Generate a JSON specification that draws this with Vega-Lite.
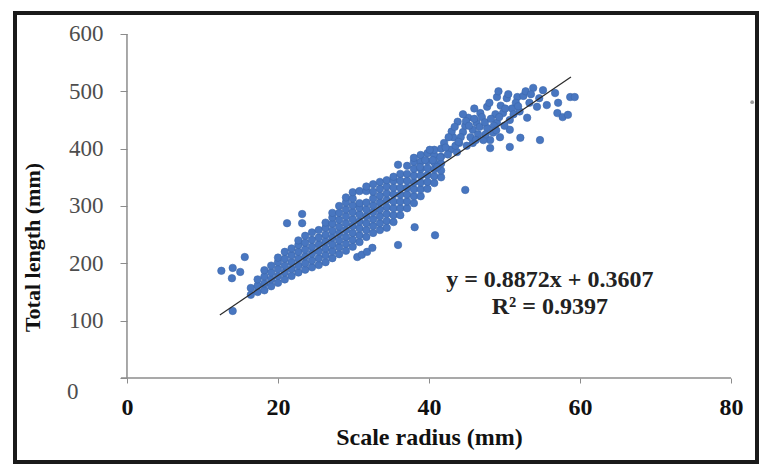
{
  "$schema": "https://vega.github.io/schema/vega-lite/v6.json",
  "width": 742,
  "height": 449,
  "autosize": {"type": "none"},
  "padding": {"left": 15, "top": 13, "right": 11, "bottom": 2},
  "background": "white",
  "config": {
    "view": {"stroke": "#1a1a1a", "strokeWidth": 4},
    "font": "Liberation Serif"
  },
  "datasets": {
    "pts": [
      {"x":16.4,"y":145},{"x":16.4,"y":157},
      {"x":17.3,"y":150},{"x":17.3,"y":161},{"x":17.3,"y":172},
      {"x":18.2,"y":153},{"x":18.2,"y":165},{"x":18.2,"y":177},{"x":18.2,"y":188},
      {"x":19.1,"y":160},{"x":19.1,"y":172},{"x":19.1,"y":184},{"x":19.1,"y":196},
      {"x":20.0,"y":166},{"x":20.0,"y":178},{"x":20.0,"y":190},{"x":20.0,"y":202},{"x":20.0,"y":210},
      {"x":20.9,"y":172},{"x":20.9,"y":184},{"x":20.9,"y":196},{"x":20.9,"y":208},{"x":20.9,"y":220},
      {"x":21.8,"y":178},{"x":21.8,"y":190},{"x":21.8,"y":202},{"x":21.8,"y":214},{"x":21.8,"y":226},
      {"x":22.7,"y":184},{"x":22.7,"y":196},{"x":22.7,"y":208},{"x":22.7,"y":220},{"x":22.7,"y":232},{"x":22.7,"y":240},
      {"x":23.6,"y":189},{"x":23.6,"y":200},{"x":23.6,"y":212},{"x":23.6,"y":224},{"x":23.6,"y":236},{"x":23.6,"y":248},
      {"x":24.5,"y":193},{"x":24.5,"y":205},{"x":24.5,"y":217},{"x":24.5,"y":229},{"x":24.5,"y":241},{"x":24.5,"y":254},
      {"x":25.4,"y":197},{"x":25.4,"y":209},{"x":25.4,"y":221},{"x":25.4,"y":233},{"x":25.4,"y":245},{"x":25.4,"y":258},
      {"x":26.3,"y":202},{"x":26.3,"y":214},{"x":26.3,"y":226},{"x":26.3,"y":238},{"x":26.3,"y":250},{"x":26.3,"y":262},{"x":26.3,"y":271},
      {"x":27.2,"y":209},{"x":27.2,"y":221},{"x":27.2,"y":233},{"x":27.2,"y":245},{"x":27.2,"y":257},{"x":27.2,"y":269},{"x":27.2,"y":280},{"x":27.2,"y":288},
      {"x":28.1,"y":216},{"x":28.1,"y":228},{"x":28.1,"y":240},{"x":28.1,"y":252},{"x":28.1,"y":264},{"x":28.1,"y":276},{"x":28.1,"y":288},{"x":28.1,"y":300},
      {"x":29.0,"y":222},{"x":29.0,"y":234},{"x":29.0,"y":246},{"x":29.0,"y":258},{"x":29.0,"y":270},{"x":29.0,"y":282},{"x":29.0,"y":294},{"x":29.0,"y":306},{"x":29.0,"y":315},
      {"x":29.9,"y":229},{"x":29.9,"y":241},{"x":29.9,"y":253},{"x":29.9,"y":265},{"x":29.9,"y":277},{"x":29.9,"y":289},{"x":29.9,"y":301},{"x":29.9,"y":313},{"x":29.9,"y":324},
      {"x":30.8,"y":237},{"x":30.8,"y":249},{"x":30.8,"y":261},{"x":30.8,"y":273},{"x":30.8,"y":285},{"x":30.8,"y":297},{"x":30.8,"y":305},{"x":30.8,"y":326},
      {"x":31.7,"y":246},{"x":31.7,"y":258},{"x":31.7,"y":270},{"x":31.7,"y":282},{"x":31.7,"y":294},{"x":31.7,"y":306},{"x":31.7,"y":326},{"x":31.7,"y":334},
      {"x":32.6,"y":253},{"x":32.6,"y":265},{"x":32.6,"y":277},{"x":32.6,"y":289},{"x":32.6,"y":301},{"x":32.6,"y":313},{"x":32.6,"y":325},{"x":32.6,"y":338},
      {"x":33.5,"y":258},{"x":33.5,"y":270},{"x":33.5,"y":282},{"x":33.5,"y":294},{"x":33.5,"y":306},{"x":33.5,"y":318},{"x":33.5,"y":330},{"x":33.5,"y":342},
      {"x":34.4,"y":262},{"x":34.4,"y":274},{"x":34.4,"y":286},{"x":34.4,"y":298},{"x":34.4,"y":310},{"x":34.4,"y":322},{"x":34.4,"y":334},{"x":34.4,"y":345},
      {"x":35.3,"y":272},{"x":35.3,"y":284},{"x":35.3,"y":296},{"x":35.3,"y":308},{"x":35.3,"y":320},{"x":35.3,"y":332},{"x":35.3,"y":344},{"x":35.3,"y":351},
      {"x":36.2,"y":284},{"x":36.2,"y":296},{"x":36.2,"y":308},{"x":36.2,"y":320},{"x":36.2,"y":332},{"x":36.2,"y":344},{"x":36.2,"y":356},
      {"x":37.1,"y":296},{"x":37.1,"y":308},{"x":37.1,"y":320},{"x":37.1,"y":332},{"x":37.1,"y":344},{"x":37.1,"y":356},{"x":37.1,"y":370},
      {"x":38.0,"y":305},{"x":38.0,"y":317},{"x":38.0,"y":329},{"x":38.0,"y":341},{"x":38.0,"y":353},{"x":38.0,"y":365},{"x":38.0,"y":377},{"x":38.0,"y":384},
      {"x":38.9,"y":317},{"x":38.9,"y":329},{"x":38.9,"y":341},{"x":38.9,"y":353},{"x":38.9,"y":365},{"x":38.9,"y":377},{"x":38.9,"y":389},
      {"x":39.8,"y":330},{"x":39.8,"y":342},{"x":39.8,"y":354},{"x":39.8,"y":366},{"x":39.8,"y":378},{"x":39.8,"y":392},
      {"x":40.7,"y":340},{"x":40.7,"y":352},{"x":40.7,"y":364},{"x":40.7,"y":376},{"x":40.7,"y":388},{"x":40.7,"y":398},
      {"x":41.6,"y":350},{"x":41.6,"y":362},{"x":41.6,"y":374},{"x":41.6,"y":386},{"x":41.6,"y":400},
      {"x":53.8,"y":506},{"x":55.1,"y":502},{"x":56.7,"y":497},{"x":58.7,"y":490},{"x":57.1,"y":480},{"x":55.6,"y":476},
      {"x":54.3,"y":473},{"x":57.0,"y":462},{"x":57.7,"y":455},{"x":53.0,"y":454},{"x":54.7,"y":415},{"x":52.1,"y":419},
      {"x":50.7,"y":433},{"x":47.7,"y":473},{"x":49.0,"y":490},{"x":50.3,"y":488},{"x":51.7,"y":490},{"x":46.8,"y":462},
      {"x":43.8,"y":447},{"x":45.2,"y":454},{"x":43.2,"y":420},{"x":44.5,"y":429},{"x":45.8,"y":433},{"x":47.7,"y":436},
      {"x":49.0,"y":445},{"x":49.8,"y":462},{"x":50.7,"y":450},{"x":48.1,"y":415},{"x":49.4,"y":420},{"x":50.7,"y":403},
      {"x":48.1,"y":401},{"x":45.8,"y":410},{"x":42.8,"y":398},{"x":41.5,"y":385},{"x":40.5,"y":380},{"x":40.1,"y":398},
      {"x":39.5,"y":380},{"x":38.8,"y":368},{"x":41.1,"y":368},{"x":43.7,"y":394},
      {"x":44.0,"y":410},{"x":44.8,"y":440},{"x":45.5,"y":420},{"x":46.3,"y":445},{"x":46.5,"y":425},{"x":47.0,"y":455},
      {"x":47.2,"y":415},{"x":48.5,"y":428},{"x":48.8,"y":460},{"x":49.5,"y":475},{"x":50.0,"y":440},{"x":51.0,"y":470},
      {"x":51.5,"y":480},{"x":52.0,"y":465},{"x":52.5,"y":492},{"x":53.3,"y":480},{"x":46.0,"y":470},{"x":44.5,"y":460},
      {"x":43.0,"y":430},{"x":42.0,"y":410},{"x":42.5,"y":390},{"x":43.5,"y":405},{"x":49.2,"y":500},{"x":50.5,"y":495},
      {"x":48.0,"y":480},{"x":52.8,"y":500},{"x":59.3,"y":490},{"x":58.4,"y":459},
      {"x":42.6,"y":420},{"x":43.4,"y":438},{"x":44.2,"y":420},{"x":44.9,"y":448},{"x":45.3,"y":440},{"x":46.0,"y":452},
      {"x":46.7,"y":438},{"x":47.4,"y":446},{"x":48.2,"y":452},{"x":48.6,"y":440},{"x":49.3,"y":455},{"x":50.1,"y":470},
      {"x":51.2,"y":460},{"x":51.8,"y":474},{"x":45.0,"y":405},{"x":46.2,"y":415},{"x":47.5,"y":425},{"x":48.9,"y":432},
      {"x":42.2,"y":402},{"x":43.9,"y":412},{"x":53.5,"y":495},{"x":54.6,"y":488},
      {"x":12.5,"y":187},{"x":13.9,"y":174},{"x":14.0,"y":192},{"x":15.0,"y":185},{"x":15.6,"y":211},
      {"x":21.2,"y":270},{"x":23.2,"y":286},{"x":23.2,"y":270},{"x":14.0,"y":117},
      {"x":30.5,"y":211},{"x":31.1,"y":215},{"x":31.8,"y":220},{"x":32.5,"y":227},
      {"x":35.9,"y":232},{"x":38.1,"y":263},{"x":40.8,"y":249},{"x":44.8,"y":328},{"x":35.9,"y":372}
    ],
    "stray": [{"x": 82.8, "y": 481}],
    "trend": [{"x": 12.3, "y": 110}, {"x": 58.8, "y": 525}],
    "axislines": [
      {"x": -0.8, "y": 0, "x2": 80, "y2": 0},
      {"x": 0, "y": 0, "x2": 0, "y2": 600}
    ],
    "labels": [
      {"x": 56.0, "y": 171, "text": "y = 0.8872x + 0.3607"},
      {"x": 56.0, "y": 124, "text": "R² = 0.9397"}
    ]
  },
  "layer": [
    {
      "data": {"name": "axislines"},
      "mark": {"type": "rule", "color": "#8c8c8c", "strokeWidth": 1.5},
      "encoding": {
        "x": {
          "field": "x", "type": "quantitative",
          "scale": {"domain": [-14.83, 83.44], "nice": false, "zero": false},
          "axis": {
            "values": [0, 20, 40, 60, 80],
            "offset": -84,
            "domain": false,
            "grid": false,
            "tickSize": 5,
            "tickColor": "#8c8c8c",
            "labelFont": "Liberation Serif",
            "labelFontWeight": "bold",
            "labelFontSize": 24,
            "labelColor": "#111",
            "labelPadding": 12,
            "title": "Scale radius (mm)",
            "titleFont": "Liberation Serif",
            "titleFontWeight": "bold",
            "titleFontSize": 24,
            "titleColor": "#111",
            "titleX": 414,
            "titlePadding": 6
          }
        },
        "y": {
          "field": "y", "type": "quantitative",
          "scale": {"domain": [-146.5, 636.6], "nice": false, "zero": false},
          "axis": {
            "values": [0, 100, 200, 300, 400, 500, 600],
            "offset": -112,
            "domain": false,
            "grid": false,
            "tickSize": 7,
            "tickColor": "#8c8c8c",
            "labelFont": "Liberation Serif",
            "labelFontSize": 23,
            "labelColor": "#4d4d4d",
            "labelPadding": {"condition": {"test": "datum.value === 0", "value": 42}, "value": 17},
            "labelOffset": {"condition": {"test": "datum.value === 0", "value": 13}, "value": 0},
            "title": "Total length (mm)",
            "titleFont": "Liberation Serif",
            "titleFontWeight": "bold",
            "titleFontSize": 22,
            "titleColor": "#111",
            "titleY": 234,
            "titlePadding": 22
          }
        },
        "x2": {"field": "x2"},
        "y2": {"field": "y2"}
      }
    },
    {
      "data": {"name": "pts"},
      "mark": {"type": "circle", "size": 56, "color": "#4876c0", "opacity": 1, "stroke": "#3d68ad", "strokeWidth": 0.6},
      "encoding": {
        "x": {"field": "x", "type": "quantitative"},
        "y": {"field": "y", "type": "quantitative"}
      }
    },
    {
      "data": {"name": "stray"},
      "mark": {"type": "circle", "size": 14, "color": "#9a9a9a", "opacity": 1},
      "encoding": {
        "x": {"field": "x", "type": "quantitative"},
        "y": {"field": "y", "type": "quantitative"}
      }
    },
    {
      "data": {"name": "trend"},
      "mark": {"type": "line", "color": "#2b2b2b", "strokeWidth": 1.2},
      "encoding": {
        "x": {"field": "x", "type": "quantitative"},
        "y": {"field": "y", "type": "quantitative"}
      }
    },
    {
      "data": {"name": "labels"},
      "mark": {"type": "text", "font": "Liberation Serif", "fontWeight": "bold", "fontSize": 24, "color": "#222", "align": "center", "baseline": "middle"},
      "encoding": {
        "x": {"field": "x", "type": "quantitative"},
        "y": {"field": "y", "type": "quantitative"},
        "text": {"field": "text"}
      }
    }
  ]
}
